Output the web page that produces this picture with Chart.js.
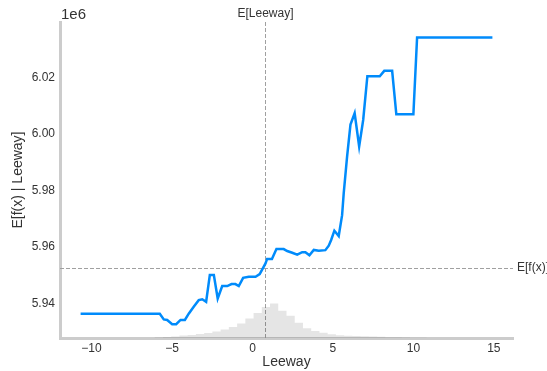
<!DOCTYPE html>
<html>
<head>
<meta charset="utf-8">
<style>
  html, body { margin: 0; padding: 0; background: #ffffff; }
  #wrap { width: 547px; height: 371px; }
</style>
<script src="https://cdn.jsdelivr.net/npm/chart.js@4.4.1/dist/chart.umd.min.js"></script>
</head>
<body>
<div id="wrap"><canvas id="pd" width="547" height="371"></canvas></div>
<script>
// Partial dependence of the model output on Leeway (output in units of 1e6)
const featureName = 'Leeway';
const leewayValues = [-10.68, -5.76, -5.51, -5.30, -4.99, -4.74, -4.47, -4.20, -3.95, -3.65,
  -3.34, -3.12, -2.88, -2.65, -2.40, -2.16, -1.88, -1.57, -1.30, -1.06,
  -0.85, -0.58, -0.23, 0.19, 0.45, 0.81, 0.91, 1.21, 1.49, 1.94,
  2.16, 2.47, 2.78, 3.09, 3.29, 3.54, 3.81, 4.12, 4.53, 4.74,
  4.89, 5.09, 5.36, 5.57, 5.67, 5.88, 6.09, 6.35, 6.63, 6.88,
  7.14, 7.91, 8.19, 8.68, 8.94, 10.00, 10.23, 14.91];
const expectedOutput = [5.9364, 5.9364, 5.9344, 5.9342, 5.9327, 5.9327, 5.9342, 5.9342, 5.9365, 5.9389,
  5.9412, 5.9415, 5.9406, 5.9501, 5.9501, 5.9418, 5.9462, 5.9462, 5.9469, 5.9469,
  5.9462, 5.9491, 5.9495, 5.9495, 5.9504, 5.9542, 5.9558, 5.9558, 5.9593, 5.9593,
  5.9586, 5.9580, 5.9573, 5.9582, 5.9582, 5.9571, 5.9590, 5.9587, 5.9589, 5.9605,
  5.9625, 5.9658, 5.9639, 5.9713, 5.9790, 5.9920, 6.0034, 6.0074, 5.9956, 6.0050,
  6.0205, 6.0205, 6.0224, 6.0224, 6.0070, 6.0070, 6.0342, 6.0342];

// Reference lines: mean feature value and mean model output
const meanLeeway = 0.81;
const meanOutput = 5.9527;

// Feature distribution: 50 equal-width bins over the curve's range
const histRange = [-10.68, 14.91];
const histCounts = [0, 0, 0, 0, 0, 0, 0, 0, 0, 6,
  12, 18, 30, 36, 48, 60, 78, 102, 132, 174,
  234, 300, 372, 414, 328, 268, 184, 116, 84, 64,
  44, 32, 28, 24, 20, 18, 14, 10, 8, 6,
  4, 2, 0, 0, 0, 0, 0, 0, 0, 0];

const xTicks = [-10, -5, 0, 5, 10, 15];
const yTicks = [5.94, 5.96, 5.98, 6.00, 6.02];
const yOffsetLabel = '1e6';

const TEXT = '#333333';
const SPINE = '#cccccc';
const LINE = '#008BFB';
Chart.defaults.font.family = '"Liberation Sans", Arial, sans-serif';
Chart.defaults.color = TEXT;

const binWidth = (histRange[1] - histRange[0]) / histCounts.length;
const histPoints = histCounts.map((c, i) => ({ x: histRange[0] + i * binWidth, y: c }));
histPoints.push({ x: histRange[1], y: histCounts[histCounts.length - 1] });

const curvePoints = leewayValues.map((v, i) => ({ x: v, y: expectedOutput[i] }));

const fmtMinus = (v) => (v < 0 ? '\u2212' + Math.abs(v) : String(v));

// dashed reference lines and their labels
const guides = {
  id: 'guides',
  beforeDatasetsDraw(chart) {
    const { ctx, chartArea: a, scales: { x, y } } = chart;
    const gx = Math.round(x.getPixelForValue(meanLeeway)) + 0.5;
    const gy = Math.round(y.getPixelForValue(meanOutput)) + 0.5;
    ctx.save();
    ctx.strokeStyle = '#a0a0a0';
    ctx.lineWidth = 1;
    ctx.setLineDash([4, 2]);
    ctx.beginPath();
    ctx.moveTo(a.left, gy); ctx.lineTo(a.right, gy);
    ctx.moveTo(gx, a.top); ctx.lineTo(gx, a.bottom);
    ctx.stroke();
    ctx.restore();
  },
  afterDraw(chart) {
    const { ctx, chartArea: a, scales: { x, y } } = chart;
    const gx = x.getPixelForValue(meanLeeway);
    const gy = y.getPixelForValue(meanOutput);
    ctx.save();
    ctx.fillStyle = TEXT;
    ctx.textBaseline = 'middle';
    ctx.font = '12px "Liberation Sans", Arial, sans-serif';
    ctx.textAlign = 'center';
    ctx.fillText('E[' + featureName + ']', gx, 14);
    ctx.textAlign = 'left';
    ctx.fillText('E[f(x)]', a.right + 4, gy);
    ctx.font = '15px "Liberation Sans", Arial, sans-serif';
    ctx.fillText(yOffsetLabel, a.left + 1, 15);
    ctx.restore();
  }
};

new Chart(document.getElementById('pd'), {
  type: 'line',
  data: {
    datasets: [
      {
        label: 'curve',
        data: curvePoints,
        borderColor: LINE,
        borderWidth: 2.5,
        pointRadius: 0,
        tension: 0,
        fill: false,
        yAxisID: 'y',
        order: 0
      },
      {
        label: 'histogram',
        data: histPoints,
        stepped: 'before',
        borderWidth: 0,
        borderColor: 'rgba(0,0,0,0)',
        backgroundColor: 'rgba(0,0,0,0.1)',
        pointRadius: 0,
        fill: 'origin',
        yAxisID: 'y2',
        order: 1
      }
    ]
  },
  options: {
    responsive: false,
    animation: false,
    devicePixelRatio: 1,
    layout: { padding: { left: 0, top: 22, right: 34, bottom: 0 } },
    plugins: { legend: { display: false }, tooltip: { enabled: false } },
    scales: {
      x: {
        type: 'linear',
        position: 'bottom',
        min: -11.96,
        max: 16.19,
        grid: { display: false, drawTicks: false },
        border: { display: true, color: SPINE, width: 3 },
        ticks: { padding: 3, font: { size: 12 }, color: TEXT, callback: (v) => fmtMinus(v), maxRotation: 0 },
        afterBuildTicks: (s) => { s.ticks = xTicks.map((v) => ({ value: v })); },
        afterFit: (s) => { s.height = 33; },
        title: { display: true, text: featureName, font: { size: 14 }, color: TEXT, padding: { top: 0, bottom: 0 } }
      },
      y: {
        type: 'linear',
        position: 'left',
        min: 5.9278,
        max: 6.0397,
        grid: { display: false, drawTicks: false },
        border: { display: true, color: SPINE, width: 3 },
        ticks: { padding: 5, font: { size: 12 }, color: TEXT, callback: (v) => v.toFixed(2) },
        afterBuildTicks: (s) => { s.ticks = yTicks.map((v) => ({ value: v })); },
        afterFit: (s) => { s.width = 60; },
        title: { display: true, text: 'E[f(x) | ' + featureName + ']', font: { size: 14 }, color: TEXT, padding: { top: 10, bottom: 0 } }
      },
      y2: {
        type: 'linear',
        display: false,
        min: 0,
        max: 3792
      }
    }
  },
  plugins: [guides]
});
</script>
</body>
</html>
